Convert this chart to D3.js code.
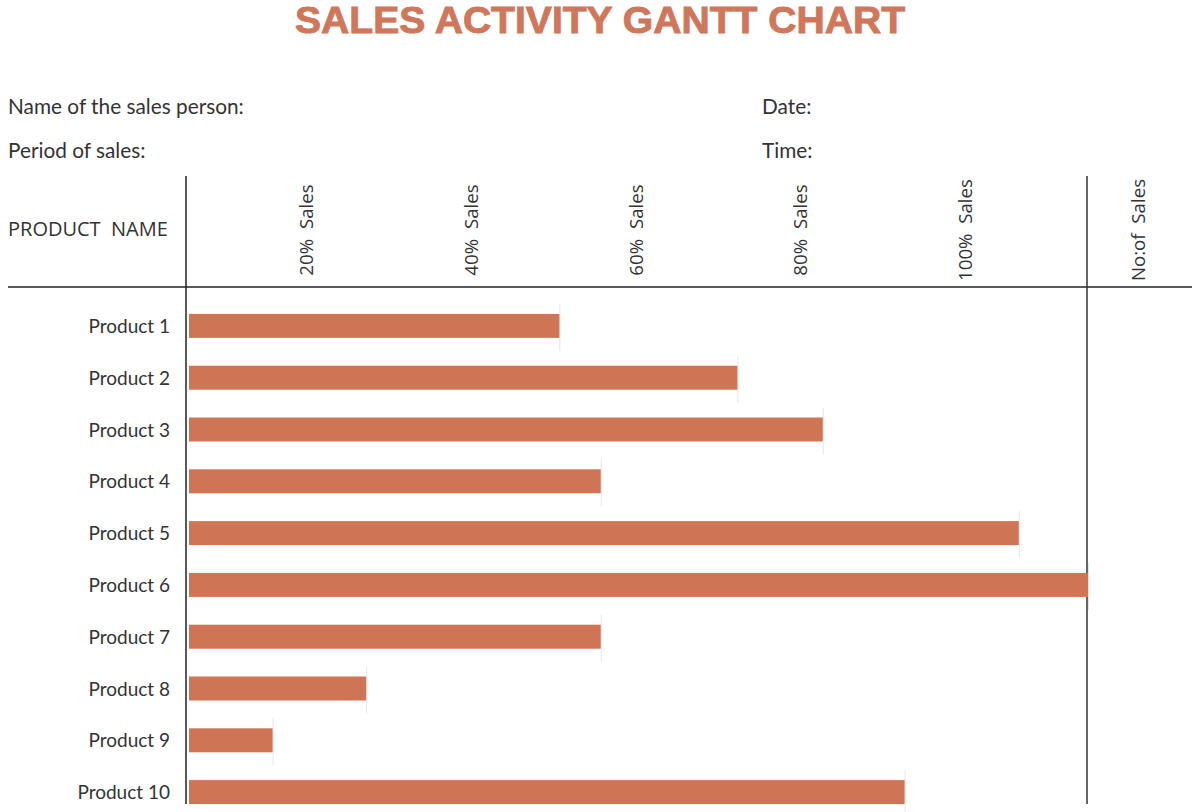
<!DOCTYPE html>
<html>
<head>
<meta charset="utf-8">
<script src="https://cdn.jsdelivr.net/npm/d3@7/dist/d3.min.js"></script>
<style>
  html, body { margin: 0; padding: 0; background: #fff; }
  svg { display: block; }
</style>
</head>
<body>
<svg id="chart" width="1200" height="812"></svg>
<script>
// ---- Data ----
const products = ["Product 1","Product 2","Product 3","Product 4","Product 5",
                  "Product 6","Product 7","Product 8","Product 9","Product 10"];
const salesPct = [41.2, 61.0, 70.5, 45.8, 92.3, 100, 45.8, 19.7, 9.3, 79.6];
const columnHeaders = ["20%  Sales","40%  Sales","60%  Sales","80%  Sales","100%  Sales","No:of  Sales"];
const headerPos = [20, 40, 60, 80, 100, 121];   // nominal column position
const infoLeft = ["Name of the sales person:", "Period of sales:"];
const infoRight = ["Date:", "Time:"];

const svg = d3.select("#chart");
const barColor = "#cf7555";
const textColor = "#333333";

// Title
svg.append("text")
  .attr("x", 600).attr("y", 33)
  .attr("text-anchor", "middle")
  .attr("font-family", "Liberation Sans, Arial, sans-serif")
  .attr("font-weight", "bold")
  .attr("font-size", 37)
  .attr("fill", "#d0765a")
  .attr("stroke", "#d0765a").attr("stroke-width", 0.9)
  .attr("textLength", 610).attr("lengthAdjust", "spacingAndGlyphs")
  .text("SALES ACTIVITY GANTT CHART");

// Info lines
const infoFont = "Lato, 'Open Sans', sans-serif";
infoLeft.forEach((t, i) => {
  svg.append("text").attr("x", 8).attr("y", 114 + i * 44)
    .attr("font-family", infoFont).attr("font-size", 20.8).attr("fill", textColor).text(t);
});
infoRight.forEach((t, i) => {
  svg.append("text").attr("x", 762).attr("y", 114 + i * 44)
    .attr("font-family", infoFont).attr("font-size", 20.8).attr("fill", textColor).text(t);
});

// Scales
const x = d3.scaleLinear().domain([0, 100]).range([189, 1088]);
const y = d3.scaleBand().domain(products).range([300, 818]).padding(0);
const barH = 24;

// Header column label positions (header text columns)
const hx = d3.scaleLinear().domain([20, 100]).range([313, 972]);

// Product name header
svg.append("text").attr("x", 8).attr("y", 236)
  .attr("font-family", "'Open Sans', sans-serif").attr("font-size", 20)
  .attr("fill", textColor).style("white-space", "pre")
  .text("PRODUCT  NAME");

// Rotated column headers
columnHeaders.forEach((t, i) => {
  const px = hx(headerPos[i]);
  svg.append("text")
    .attr("transform", `translate(${px},230) rotate(-90)`)
    .attr("text-anchor", "middle")
    .attr("font-family", "'Open Sans', sans-serif").attr("font-size", 18.7)
    .attr("fill", textColor).style("white-space", "pre")
    .text(t);
});

// Grid frame lines
svg.append("line").attr("x1", 8).attr("x2", 1192).attr("y1", 287).attr("y2", 287)
  .attr("stroke", "#222").attr("stroke-width", 1.5);
svg.append("line").attr("x1", 186).attr("x2", 186).attr("y1", 176).attr("y2", 804)
  .attr("stroke", "#222").attr("stroke-width", 1.5);
svg.append("line").attr("x1", x(100) - 1).attr("x2", x(100) - 1).attr("y1", 176).attr("y2", 804)
  .attr("stroke", "#333").attr("stroke-width", 1.5);

// Faint end markers
svg.append("g").selectAll("line").data(products).join("line")
  .attr("x1", (d, i) => x(salesPct[i]) + 0.5)
  .attr("x2", (d, i) => x(salesPct[i]) + 0.5)
  .attr("y1", d => y(d) + y.bandwidth() / 2 - 22)
  .attr("y2", d => y(d) + y.bandwidth() / 2 + 25)
  .attr("stroke", "#e6e6e6").attr("stroke-width", 1);

// Bars
svg.append("g").selectAll("rect").data(products).join("rect")
  .attr("x", x(0))
  .attr("y", d => y(d) + (y.bandwidth() - barH) / 2)
  .attr("width", (d, i) => x(salesPct[i]) - x(0))
  .attr("height", barH)
  .attr("fill", barColor);

// Product labels
svg.append("g").selectAll("text").data(products).join("text")
  .attr("x", 170)
  .attr("y", d => y(d) + y.bandwidth() / 2 + 7)
  .attr("text-anchor", "end")
  .attr("font-family", infoFont).attr("font-size", 19)
  .attr("fill", textColor)
  .text(d => d);
</script>
</body>
</html>
